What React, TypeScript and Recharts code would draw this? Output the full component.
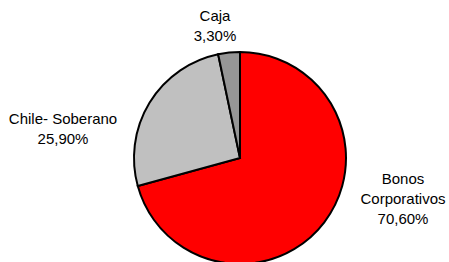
import { PieChart, Pie, Cell } from 'recharts'

const categories = ['Bonos Corporativos', 'Chile- Soberano', 'Caja']
const values = [70.6, 25.9, 3.3]
const valueLabels = ['70,60%', '25,90%', '3,30%']
const labelLines = [['Bonos', 'Corporativos'], ['Chile- Soberano'], ['Caja']]

const colors = ['#FF0000', '#C0C0C0', '#969696']
// label offsets from pie centre (x, y of first line)
const labelOffsets = [
    { dx: 163, dy: 20 },
    { dx: -177, dy: -40 },
    { dx: -25, dy: -143 }
]

const data = categories.map((name, i) => ({ name, value: values[i] }))

const renderLabel = (props: any) => {
    const { cx, cy, index } = props
    const off = labelOffsets[index]
    const lines = [...labelLines[index], valueLabels[index]]
    return (
        <text
            x={cx + off.dx}
            y={cy + off.dy}
            textAnchor="middle"
            dominantBaseline="central"
            fill="#000"
            fontSize={15}
            fontFamily="'Liberation Sans', Arial, sans-serif"
        >
            {lines.map((l, k) => (
                <tspan key={k} x={cx + off.dx} dy={k === 0 ? 0 : 20}>
                    {l}
                </tspan>
            ))}
        </text>
    )
}

export default function App() {
    return (
        <div style={{ position: 'absolute', left: 0, top: 0, width: 449, height: 262, background: '#fff' }}>
            <PieChart width={449} height={262} margin={{ top: 0, right: 0, bottom: 0, left: 0 }}>
                <Pie
                    data={data}
                    dataKey="value"
                    cx={240}
                    cy={158}
                    outerRadius={106}
                    startAngle={90}
                    endAngle={-270}
                    stroke="#000"
                    strokeWidth={2}
                    label={renderLabel}
                    labelLine={false}
                    isAnimationActive={false}
                >
                    {data.map((d, i) => (
                        <Cell key={d.name} fill={colors[i]} />
                    ))}
                </Pie>
            </PieChart>
        </div>
    )
}
